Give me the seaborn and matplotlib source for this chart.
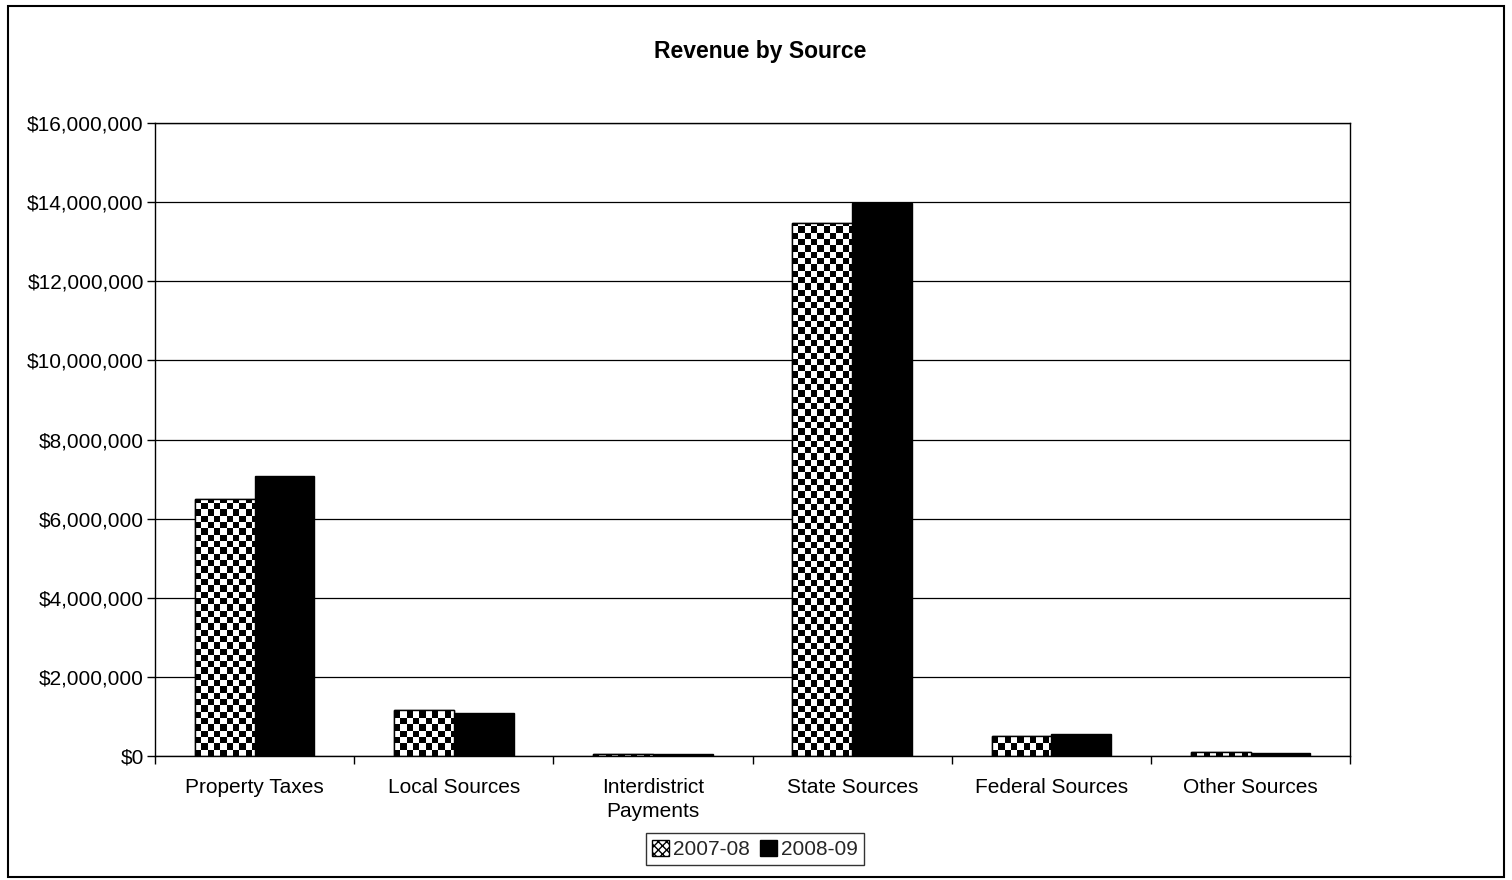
import numpy as np
import pandas as pd
import matplotlib
matplotlib.use('Agg')
import matplotlib.pyplot as plt
import matplotlib.patches as mpatches
import matplotlib.ticker as mticker
import seaborn as sns

# data
categories = ['Property Taxes', 'Local Sources', 'Interdistrict\nPayments',
              'State Sources', 'Federal Sources', 'Other Sources']
years = ['2007-08', '2008-09']
rev_2007 = [6500000, 1150000, 40000, 13470000, 500000, 100000]
rev_2008 = [7080000, 1080000, 40000, 13980000, 550000, 80000]
y_ticks = [0, 2000000, 4000000, 6000000, 8000000, 10000000, 12000000, 14000000, 16000000]

df = pd.DataFrame({
    'category': categories * 2,
    'year': [years[0]] * len(categories) + [years[1]] * len(categories),
    'revenue': rev_2007 + rev_2008,
})

sns.set_theme(style='white')
plt.rcParams['font.family'] = ['Liberation Sans', 'DejaVu Sans']

fig = plt.figure(figsize=(15.12, 8.8), dpi=100)
ax = fig.add_axes([0.1025, 0.141, 0.7905, 0.719])

sns.barplot(data=df, x='category', y='revenue', hue='year', order=categories,
            hue_order=years, palette=['white', 'black'], width=0.6, gap=0,
            edgecolor='black', linewidth=1, saturation=1, ax=ax, legend=False)

ax.set_ylim(0, 16000000)
ax.set_xlim(-0.5, len(categories) - 0.5)
ax.set_yticks(y_ticks)
ax.yaxis.set_major_formatter(mticker.StrMethodFormatter('${x:,.0f}'))
ax.set_xlabel('')
ax.set_ylabel('')

# gridlines and frame, Excel style
ax.set_axisbelow(True)
ax.yaxis.grid(True, color='black', linewidth=0.9)
for s in ax.spines.values():
    s.set_visible(True)
    s.set_color('black')
    s.set_linewidth(1)

ax.tick_params(axis='y', direction='out', length=6, width=1, color='black',
               left=True, labelsize=15, pad=2, labelcolor='black')
ax.tick_params(axis='x', which='major', length=0, labelsize=15, pad=16,
               labelcolor='black')
ax.set_xticks(np.arange(-0.5, len(categories), 1.0), minor=True)
ax.tick_params(axis='x', which='minor', direction='out', length=6, width=1,
               color='black', bottom=True)
for lbl in ax.get_xticklabels():
    lbl.set_linespacing(1.3)

# checkerboard fill for the 2007-08 bars
fig.canvas.draw()
sq_px = 6.3
inv = ax.transData.inverted()
p0 = inv.transform((0, 0))
p1 = inv.transform((sq_px, sq_px))
sq_x = p1[0] - p0[0]
sq_y = p1[1] - p0[1]
for bar in ax.containers[0]:
    x0 = bar.get_x()
    w = bar.get_width()
    h = bar.get_height()
    nx = int(np.ceil(w / sq_x))
    ny = max(1, int(np.ceil(h / sq_y)))
    board = np.add.outer(np.arange(ny), np.arange(nx)) % 2
    im = ax.imshow(board, cmap='gray', interpolation='nearest', aspect='auto',
                   origin='lower', extent=(x0, x0 + nx * sq_x, 0, ny * sq_y),
                   zorder=bar.get_zorder() + 0.1)
    im.set_clip_path(bar)
    edge = mpatches.Rectangle((x0, 0), w, h, facecolor='none', edgecolor='black',
                              linewidth=1, zorder=bar.get_zorder() + 0.2)
    ax.add_patch(edge)

ax.set_ylim(0, 16000000)
ax.set_xlim(-0.5, len(categories) - 0.5)

fig.text(0.503, 0.941, 'Revenue by Source', ha='center', va='center',
         fontsize=16.5, fontweight='bold', color='black')

handles = [mpatches.Patch(facecolor='white', edgecolor='black', hatch='xxxx', label=years[0]),
           mpatches.Patch(facecolor='black', edgecolor='black', label=years[1])]
leg = fig.legend(handles=handles, loc='center', bbox_to_anchor=(0.4995, 0.035), ncol=2,
                 fontsize=15, frameon=True, fancybox=False, handlelength=0.8,
                 handleheight=0.8, handletextpad=0.2, columnspacing=0.5,
                 borderpad=0.3, borderaxespad=0)
leg.get_frame().set_edgecolor('black')
leg.get_frame().set_linewidth(1)

# outer chart border
fig.patches.append(mpatches.Rectangle((0.005, 0.003), 0.99, 0.99, transform=fig.transFigure,
                                      fill=False, edgecolor='black', linewidth=1.5))

fig.savefig('out.png', dpi=100)
